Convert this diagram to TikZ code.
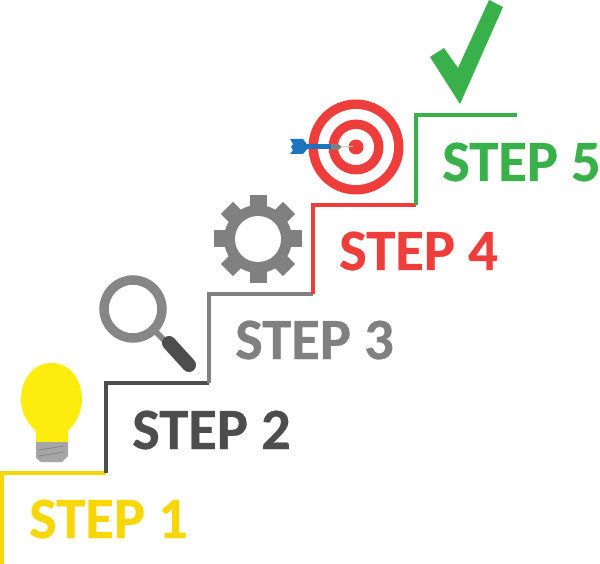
\documentclass[tikz,border=0pt]{standalone}
\usepackage{fontspec}
\setmainfont{Carlito}[BoldFeatures={FakeBold=0.5}]

\definecolor{stepyellow}{HTML}{F7D708}
\definecolor{bulbyellow}{HTML}{FFEC0F}
\definecolor{stepdark}{HTML}{4D4D4D}
\definecolor{stepgray}{HTML}{808080}
\definecolor{basegray}{HTML}{A6A6A6}
\definecolor{stepred}{HTML}{EE3E3C}
\definecolor{stepgreen}{HTML}{39B14A}
\definecolor{dartblue}{HTML}{1C75BC}

\begin{document}
\begin{tikzpicture}[x=1pt, y=-1pt,
        stair/.style={line width=4pt, line cap=butt, line join=miter},
        steplabel/.style={anchor=base west, inner sep=0pt, font=\fontsize{58.5}{58.5}\selectfont\bfseries}]

        \useasboundingbox (0,0) rectangle (600,564);

        % stairs
        \coordinate (foot) at (2,564);
        \coordinate (corner1) at (2,472.5);
        \coordinate (corner2) at (106,472.5);
        \coordinate (corner3) at (106,383);
        \coordinate (corner4) at (209,383);
        \coordinate (corner5) at (209,294);
        \coordinate (corner6) at (313,294);
        \coordinate (corner7) at (313,205);
        \coordinate (corner8) at (416,205);
        \coordinate (corner9) at (416,115);
        \coordinate (end) at (517,115);

        \draw[stair, stepyellow] (foot) -- (corner1) -- (corner2);
        \draw[stair, stepdark] (corner2) -- (corner3) -- (corner4);
        \draw[stair, stepgray] (corner4) -- (corner5) -- (corner6);
        \draw[stair, stepred] (corner6) -- (corner7) -- (corner8);
        \draw[stair, stepgreen] (corner8) -- (corner9) -- (end);

        \node[steplabel, text=stepyellow] (step1) at (29,538) {STEP 1};
        \node[steplabel, text=stepdark] (step2) at (132,449) {STEP 2};
        \node[steplabel, text=stepgray] (step3) at (235,359) {STEP 3};
        \node[steplabel, text=stepred] (step4) at (339,270) {STEP 4};
        \node[steplabel, text=stepgreen] (step5) at (442,181) {STEP 5};

        % bulb
        \fill[bulbyellow] (36,442) -- (36,431)
            .. controls (27,423) and (21,412) .. (21,400)
            .. controls (21,378) and (34,363) .. (51.5,363)
            .. controls (69,363) and (82,378) .. (82,400)
            .. controls (82,412) and (76,423) .. (68,431)
            -- (68,442) -- cycle;
        \fill[basegray] (36,442) -- (68,442) -- (68,456) -- (62,462) -- (41,462) -- (36,458) -- cycle;
        \draw[stepgray, line width=.7pt] (39,450) -- (64,446);
        \draw[stepgray, line width=.7pt] (39,456) -- (64,452);

        % magnifier
        \draw[stepgray!95, line width=6pt] (156,332) -- (168,344);
        \draw[stepdark, line width=14pt, line cap=round] (169,343) -- (189,365);
        \draw[stepgray!95, line width=9.5pt] (133,309) circle (29);

        % gear
        \foreach \a in {0,45,...,315}
            \fill[stepgray, rotate around={\a:(258,239)}] (249.5,239) rectangle (266.5,195);
        \fill[stepgray] (258,239) circle (34);
        \fill[white] (258,239) circle (23);

        % target
        \fill[stepred] (356,147) circle (47.5);
        \fill[white] (356,147) circle (38);
        \fill[stepred] (356,147) circle (27.5);
        \fill[white] (356,147) circle (18);
        \fill[stepred] (356,147) circle (7.5);

        % dart
        \draw[basegray!60, line width=1pt] (340,147) -- (353,147);
        \fill[stepgray] (331,144) -- (338,144) -- (341,146) -- (341,148) -- (338,150) -- (331,150) -- cycle;
        \fill[dartblue] (300,144.5) rectangle (331,149.5);
        \fill[dartblue] (290,139) -- (303,139) -- (309,147) -- (303,154) -- (290,154) -- (293,150) -- (291,147) -- (293,144) -- cycle;

        % check
        \fill[stepgreen] (489,0) -- (503,7) -- (460,104) -- (430,57) -- (444,48) -- (458,68) -- cycle;
\end{tikzpicture}
\end{document}
